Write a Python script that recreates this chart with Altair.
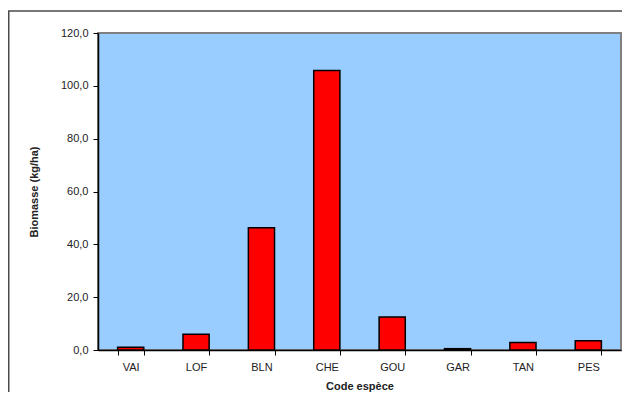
import altair as alt
import pandas as pd

species = ["VAI", "LOF", "BLN", "CHE", "GOU", "GAR", "TAN", "PES"]
biomass = [1.0, 6.0, 46.3, 105.8, 12.5, 0.5, 2.8, 3.5]
y_ticks = [0, 20, 40, 60, 80, 100, 120]

df = pd.DataFrame({"code": species, "biomasse": biomass})

FONT = "Liberation Sans"
W, H = 523, 317

xscale = alt.Scale(domain=species, paddingInner=0.6, paddingOuter=0.3)
yscale = alt.Scale(domain=[0, 120], nice=False)

one = alt.Data(values=[{"a": 1}])
frame_top = alt.Chart(one).mark_rule(
    stroke="#4a4a4a", strokeWidth=1.5, clip=False
).encode(x=alt.value(-90), x2=alt.value(W + 1), y=alt.value(-22))
frame_left = alt.Chart(one).mark_rule(
    stroke="#4a4a4a", strokeWidth=2, clip=False
).encode(x=alt.value(-89.5), y=alt.value(-22), y2=alt.value(H + 42))

bars = alt.Chart(df).mark_bar(
    color="#FF0000", stroke="#000000", strokeWidth=1.5
).encode(
    x=alt.X("code:N", scale=xscale, sort=species,
            axis=alt.Axis(title="Code espèce", labelAngle=0, ticks=True,
                          tickBand="extent", tickColor="#000000", tickSize=5,
                          tickWidth=1,
                          domain=True, domainColor="#000000", domainWidth=1.5,
                          labelPadding=6, labelFontSize=11, labelFont=FONT,
                          labelColor="#222222", titleFont=FONT, titleFontSize=11,
                          titleFontWeight="bold", titleColor="#222222",
                          titlePadding=8)),
    y=alt.Y("biomasse:Q", scale=yscale,
            axis=alt.Axis(title="Biomasse (kg/ha)", values=y_ticks,
                          labelExpr="replace(format(datum.value, '.1f'), '.', ',')",
                          grid=False, domainColor="#000000", domainWidth=1.5,
                          tickColor="#000000", tickSize=5, tickWidth=1,
                          labelPadding=5, labelFontSize=11, labelFont=FONT,
                          labelColor="#222222", titleFont=FONT, titleFontSize=11,
                          titleFontWeight="bold", titleColor="#222222",
                          titlePadding=21)),
)

chart = alt.layer(bars, frame_top, frame_left).properties(
    width=W, height=H,
    autosize=alt.AutoSizeParams(type="none"),
    padding={"left": 90, "top": 25, "right": 1, "bottom": 42},
).configure(background="#FFFFFF").configure_view(
    fill="#99CCFF", stroke="#808080", strokeWidth=2
)

chart.save("out.html", embed_options={"renderer": "svg", "actions": False})
